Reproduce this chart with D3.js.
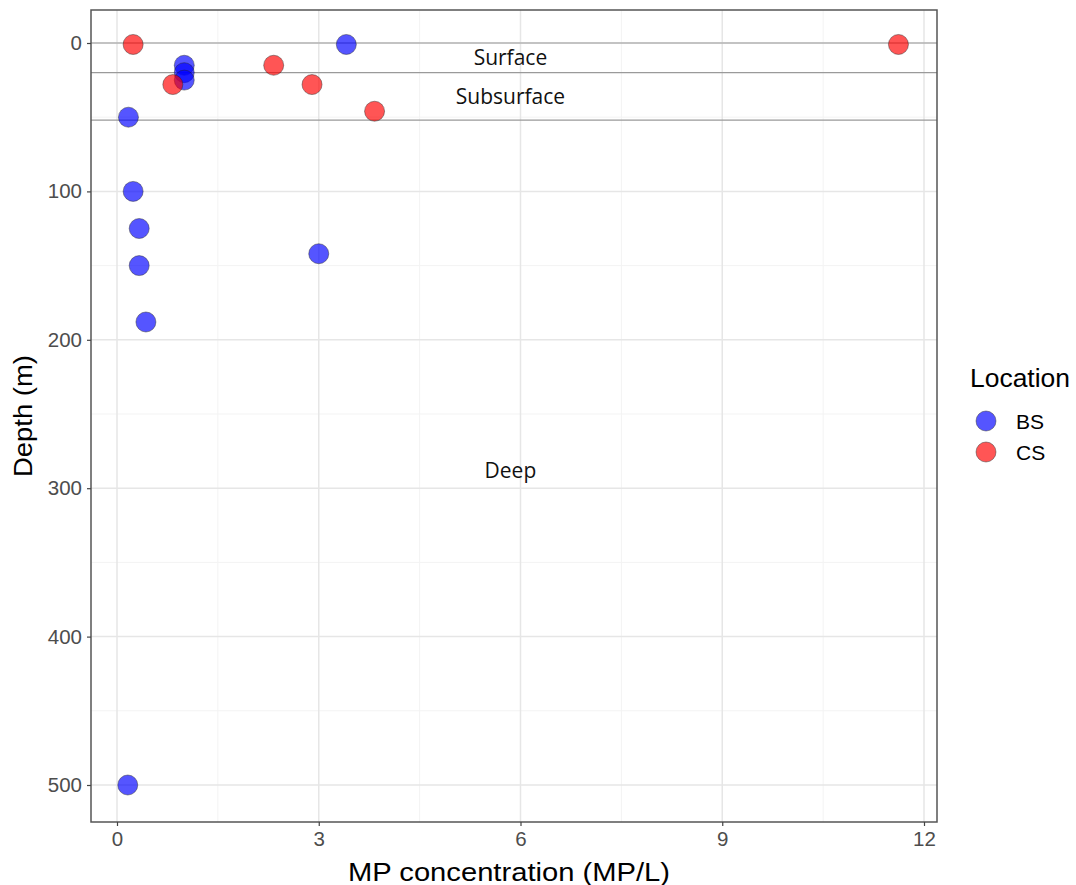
<!DOCTYPE html>
<html>
<head>
<meta charset="utf-8">
<script src="https://cdn.jsdelivr.net/npm/d3@7"></script>
<style>
  body { margin: 0; background: #fff; }
  svg { display: block; }
</style>
</head>
<body>
<svg id="chart" width="1076" height="885"></svg>
<script>
// data
var bsConc  = [3.41, 1.0, 1.0, 1.0, 0.17, 0.24, 0.33, 0.33, 0.43, 3.0, 0.16];
var bsDepth = [1, 15, 20, 25, 50, 100, 125, 150, 188, 142, 500];
var csConc  = [0.24, 0.83, 2.33, 2.9, 3.83, 11.62];
var csDepth = [1, 28, 15, 28, 46, 1];
var layerBounds = [0, 20, 52];
var layerNames = ['Surface', 'Subsurface', 'Deep'];
var layerLabelDepth = [10, 36, 288];
var xTicks = [0, 3, 6, 9, 12];
var yTicks = [0, 100, 200, 300, 400, 500];
var locations = ['BS', 'CS'];
var locColors = ['rgba(0,0,255,0.7)', 'rgba(255,0,0,0.7)'];

var svg = d3.select('#chart');
var panel = { left: 91, right: 937, top: 10, bottom: 822 };
var sans = '"Liberation Sans", Arial, sans-serif';

var x = d3.scaleLinear().domain([0, 12]).range([117, 924]);
var y = d3.scaleLinear().domain([0, 500]).range([43, 785]);

// grid
var g = svg.append('g');
var xMinor = d3.range(1.5, 12, 3);
var yMinor = d3.range(50, 520, 100);
function vlines(data, color, w) {
    g.append('g').selectAll('line').data(data).enter().append('line')
        .attr('x1', d => x(d)).attr('x2', d => x(d))
        .attr('y1', panel.top).attr('y2', panel.bottom)
        .attr('stroke', color).attr('stroke-width', w);
}
function hlines(data, color, w) {
    g.append('g').selectAll('line').data(data).enter().append('line')
        .attr('y1', d => y(d)).attr('y2', d => y(d))
        .attr('x1', panel.left).attr('x2', panel.right)
        .attr('stroke', color).attr('stroke-width', w);
}
vlines(xMinor, '#f3f3f3', 1);
hlines(yMinor, '#f3f3f3', 1);
vlines(xTicks, '#e6e6e6', 1.5);
hlines(yTicks, '#e6e6e6', 1.5);

// layer boundaries
hlines(layerBounds, '#9a9a9a', 1.2);

// layer labels
g.selectAll('.layer').data(layerNames).enter().append('text')
    .attr('x', x(5.85))
    .attr('y', (d, i) => y(layerLabelDepth[i]))
    .attr('dy', '0.35em')
    .attr('text-anchor', 'middle')
    .style('font-family', '"Open Sans", sans-serif')
    .style('font-size', '21px')
    .attr('fill', '#111')
    .text(d => d);

// points
function drawPoints(conc, depth, color) {
    g.append('g').selectAll('circle').data(conc).enter().append('circle')
        .attr('cx', d => x(d))
        .attr('cy', (d, i) => y(depth[i]))
        .attr('r', 10)
        .attr('fill', color)
        .attr('stroke', '#222')
        .attr('stroke-opacity', 0.45)
        .attr('stroke-width', 1)
        .style('opacity', 0.95);
}
drawPoints(bsConc, bsDepth, locColors[0]);
drawPoints(csConc, csDepth, locColors[1]);

// panel border
svg.append('rect')
    .attr('x', panel.left).attr('y', panel.top)
    .attr('width', panel.right - panel.left).attr('height', panel.bottom - panel.top)
    .attr('fill', 'none').attr('stroke', '#555').attr('stroke-width', 1.5);

// axes
var xAxis = d3.axisBottom(x).tickValues(xTicks).tickSizeInner(4).tickSizeOuter(0).tickPadding(5);
var yAxis = d3.axisLeft(y).tickValues(yTicks).tickSizeInner(4).tickSizeOuter(0).tickPadding(5);
var xa = svg.append('g').attr('transform', 'translate(0,' + panel.bottom + ')').call(xAxis);
var ya = svg.append('g').attr('transform', 'translate(' + panel.left + ',0)').call(yAxis);
[xa, ya].forEach(function (a) {
    a.select('.domain').remove();
    a.selectAll('.tick line').attr('stroke', '#444').attr('stroke-width', 1.2);
    a.selectAll('.tick text')
        .attr('fill', '#4d4d4d')
        .style('font-family', sans)
        .style('font-size', '20.5px');
});

// axis titles
svg.append('text')
    .attr('x', 509).attr('y', 881)
    .attr('text-anchor', 'middle')
    .attr('textLength', 322).attr('lengthAdjust', 'spacingAndGlyphs')
    .style('font-family', sans)
    .style('font-size', '25px')
    .text('MP concentration (MP/L)');
svg.append('text')
    .attr('transform', 'translate(32,' + (panel.top + panel.bottom) / 2 + ') rotate(-90)')
    .attr('text-anchor', 'middle')
    .attr('textLength', 122).attr('lengthAdjust', 'spacingAndGlyphs')
    .style('font-family', sans)
    .style('font-size', '25px')
    .text('Depth (m)');

// legend
var lg = svg.append('g').attr('transform', 'translate(969,0)');
lg.append('text').attr('x', 1).attr('y', 387)
    .attr('textLength', 100).attr('lengthAdjust', 'spacingAndGlyphs')
    .style('font-family', sans)
    .style('font-size', '26px')
    .text('Location');
var items = lg.selectAll('.item').data(locations).enter().append('g')
    .attr('transform', (d, i) => 'translate(0,' + (421 + i * 31) + ')');
items.append('circle').attr('cx', 17).attr('r', 10)
    .attr('fill', (d, i) => locColors[i])
    .attr('stroke', '#222').attr('stroke-opacity', 0.45)
    .style('opacity', 0.95);
items.append('text').attr('x', 47).attr('dy', '0.36em')
    .style('font-family', sans)
    .style('font-size', '21px')
    .text(d => d);
</script>
</body>
</html>
